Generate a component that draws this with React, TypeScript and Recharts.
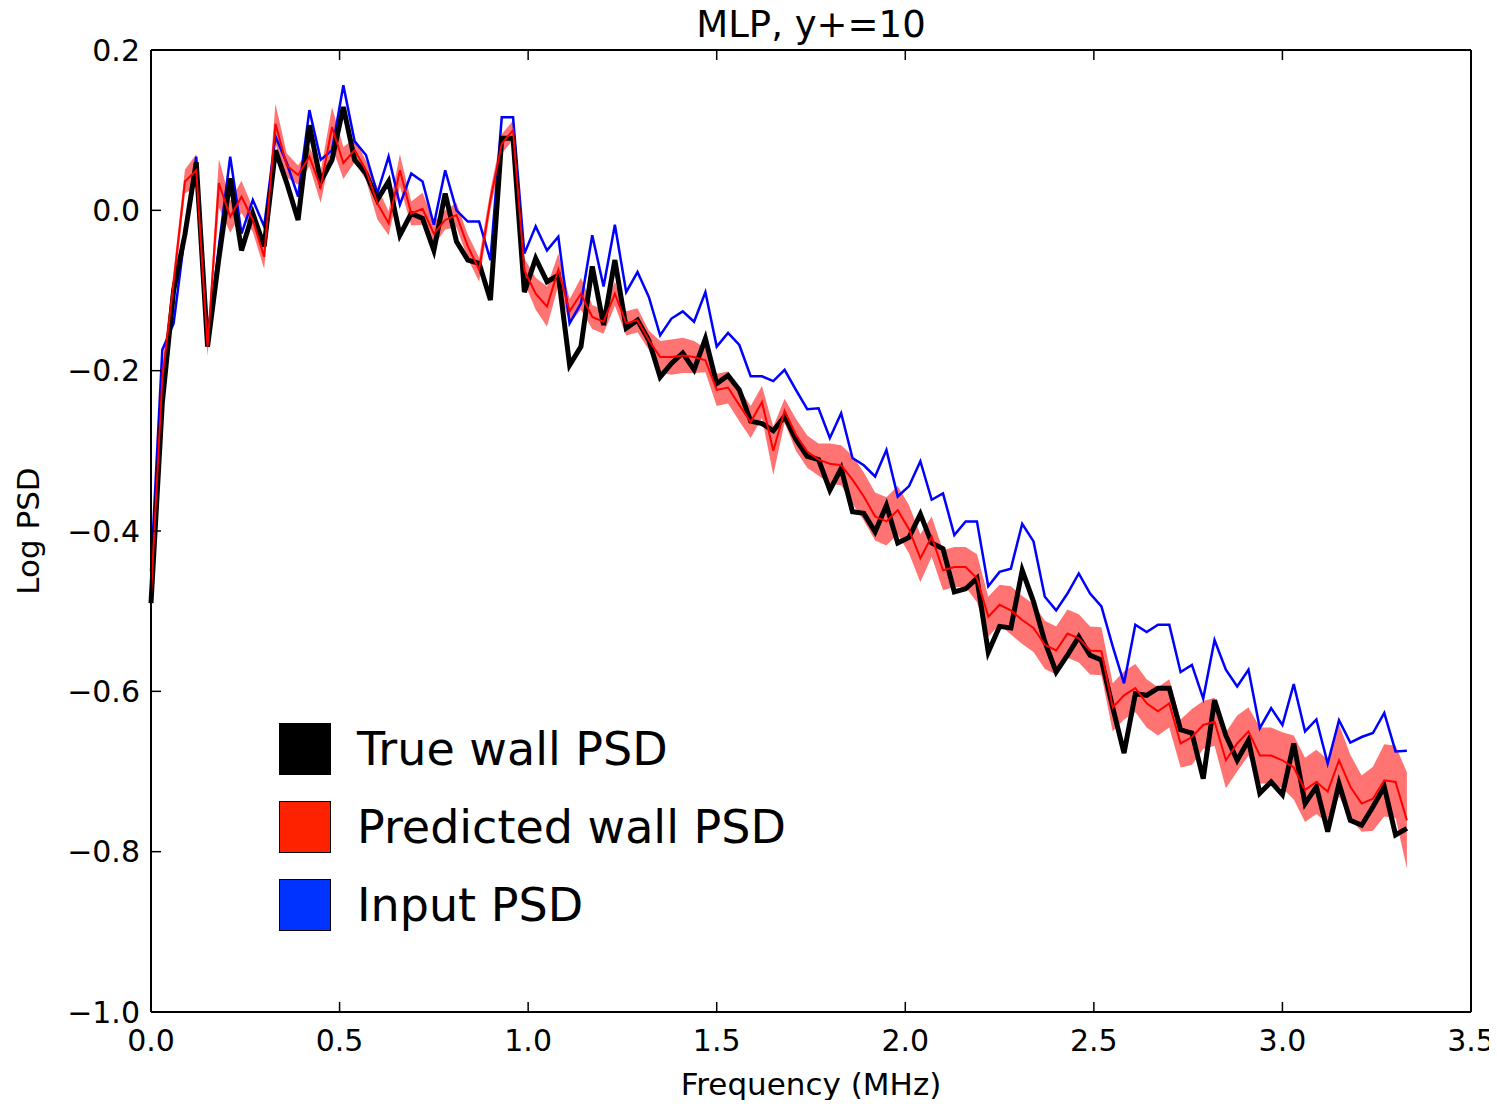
import {
  ComposedChart,
  XAxis,
  YAxis,
  Line,
  Area,
  Legend,
} from 'recharts';

// frequency grid (MHz), one bin every 0.03
const FREQ_STEP = 0.03;

const trueWall = [
  -0.49, -0.24, -0.1, -0.03, 0.06, -0.17, -0.06, 0.04, -0.05, -0.004,
  -0.045, 0.075, 0.034, -0.012, 0.106, 0.036, 0.063, 0.129, 0.063, 0.046,
  0.013, 0.036, -0.031, -0.004, -0.01, -0.05, 0.021, -0.039, -0.062, -0.066,
  -0.112, 0.09, 0.09, -0.102, -0.06, -0.089, -0.081, -0.193, -0.17, -0.07,
  -0.143, -0.062, -0.147, -0.137, -0.162, -0.208, -0.191, -0.178, -0.199, -0.16,
  -0.216, -0.206, -0.224, -0.263, -0.266, -0.275, -0.257, -0.286, -0.307, -0.311,
  -0.349, -0.322, -0.376, -0.378, -0.401, -0.368, -0.415, -0.408, -0.379, -0.415,
  -0.422, -0.476, -0.472, -0.459, -0.551, -0.519, -0.521, -0.449, -0.488, -0.538,
  -0.576, -0.555, -0.532, -0.555, -0.561, -0.62, -0.677, -0.603, -0.605, -0.596,
  -0.596, -0.648, -0.652, -0.709, -0.611, -0.655, -0.686, -0.661, -0.727, -0.713,
  -0.729, -0.665, -0.74, -0.719, -0.775, -0.715, -0.761, -0.767, -0.744, -0.719,
  -0.779, -0.771,
];

const predicted = [
  -0.48, -0.21, -0.09, 0.036, 0.05, -0.17, 0.034, -0.008, 0.017, -0.012,
  -0.058, 0.108, 0.056, 0.044, 0.067, 0.029, 0.104, 0.059, 0.075, 0.05,
  0.009, -0.016, 0.05, -0.004, 0.002, -0.029, -0.012, -0.006, -0.045, -0.074,
  0.013, 0.083, 0.1, -0.075, -0.104, -0.12, -0.074, -0.126, -0.104, -0.133,
  -0.139, -0.104, -0.141, -0.137, -0.162, -0.183, -0.183, -0.181, -0.183, -0.187,
  -0.224, -0.221, -0.243, -0.264, -0.239, -0.3, -0.25, -0.28, -0.301, -0.311,
  -0.316, -0.318, -0.336, -0.357, -0.382, -0.388, -0.374, -0.398, -0.434, -0.407,
  -0.449, -0.445, -0.445, -0.459, -0.507, -0.492, -0.499, -0.511, -0.521, -0.542,
  -0.549, -0.528, -0.534, -0.549, -0.55, -0.62, -0.605, -0.596, -0.615, -0.625,
  -0.615, -0.665, -0.657, -0.642, -0.638, -0.686, -0.665, -0.65, -0.68, -0.68,
  -0.686, -0.695, -0.723, -0.713, -0.725, -0.686, -0.719, -0.74, -0.734, -0.711,
  -0.713, -0.761,
];

// half width of the shaded uncertainty band around the prediction
const predictedSpread = [
  0.012, 0.015, 0.015, 0.015, 0.02, 0.012, 0.03, 0.02, 0.02, 0.015,
  0.015, 0.025, 0.015, 0.012, 0.012, 0.02, 0.025, 0.02, 0.015, 0.012,
  0.02, 0.015, 0.02, 0.015, 0.02, 0.015, 0.012, 0.015, 0.015, 0.015,
  0.012, 0.012, 0.012, 0.015, 0.02, 0.025, 0.02, 0.015, 0.02, 0.015,
  0.015, 0.015, 0.015, 0.015, 0.012, 0.02, 0.022, 0.022, 0.02, 0.015,
  0.02, 0.02, 0.02, 0.02, 0.02, 0.03, 0.015, 0.02, 0.02, 0.02,
  0.025, 0.025, 0.03, 0.03, 0.03, 0.03, 0.03, 0.03, 0.03, 0.025,
  0.025, 0.025, 0.025, 0.03, 0.025, 0.025, 0.03, 0.03, 0.03, 0.03,
  0.03, 0.03, 0.03, 0.03, 0.03, 0.03, 0.03, 0.03, 0.03, 0.03,
  0.03, 0.03, 0.035, 0.03, 0.03, 0.035, 0.035, 0.03, 0.035, 0.035,
  0.035, 0.04, 0.04, 0.04, 0.04, 0.045, 0.04, 0.035, 0.04, 0.045,
  0.045, 0.06,
];

const input = [
  -0.45, -0.174, -0.141, -0.03, 0.067, -0.166, -0.045, 0.067, -0.029, 0.013,
  -0.02, 0.092, 0.059, 0.017, 0.125, 0.063, 0.075, 0.156, 0.086, 0.069,
  0.021, 0.067, 0.007, 0.046, 0.036, -0.018, 0.05, 0.0, -0.014, -0.014,
  -0.062, 0.116, 0.116, -0.054, -0.02, -0.05, -0.033, -0.141, -0.116, -0.031,
  -0.095, -0.018, -0.102, -0.077, -0.108, -0.156, -0.135, -0.126, -0.139, -0.102,
  -0.17, -0.153, -0.168, -0.207, -0.207, -0.213, -0.199, -0.224, -0.248, -0.247,
  -0.284, -0.253, -0.309, -0.318, -0.332, -0.299, -0.357, -0.344, -0.313, -0.361,
  -0.353, -0.405, -0.388, -0.388, -0.469, -0.451, -0.447, -0.391, -0.413, -0.482,
  -0.499, -0.478, -0.453, -0.478, -0.494, -0.544, -0.59, -0.517, -0.526, -0.517,
  -0.517, -0.576, -0.567, -0.609, -0.536, -0.573, -0.594, -0.573, -0.646, -0.621,
  -0.642, -0.591, -0.65, -0.635, -0.69, -0.636, -0.664, -0.657, -0.652, -0.627,
  -0.675, -0.674,
];

const xTicks = [0, 0.5, 1, 1.5, 2, 2.5, 3, 3.5];
const yTicks = [0.2, 0, -0.2, -0.4, -0.6, -0.8, -1.0];

const legendItems = [
  { label: 'True wall PSD', color: '#000000' },
  { label: 'Predicted wall PSD', color: '#ff2200' },
  { label: 'Input PSD', color: '#0033ff' },
];

const data = trueWall.map((t, i) => ({
  freq: Number((i * FREQ_STEP).toFixed(2)),
  trueWall: t,
  predicted: predicted[i],
  band: [predicted[i] - predictedSpread[i], predicted[i] + predictedSpread[i]],
  input: input[i],
}));

const FONT = 'DejaVu Sans';

const fmtY = (v: number) => {
  if (Math.abs(v) < 1e-9) return '0.0';
  return v < 0 ? `\u2212${Math.abs(v).toFixed(1)}` : v.toFixed(1);
};

const YLabel = (props: any) => {
  const { viewBox } = props;
  const cx = 20;
  const cy = viewBox.y + viewBox.height / 2;
  return (
    <text
      x={cx}
      y={cy}
      transform={`rotate(-90 ${cx} ${cy})`}
      textAnchor="middle"
      dominantBaseline="central"
      fontSize={31}
      fontFamily={FONT}
      fill="#000"
    >
      Log PSD
    </text>
  );
};

const renderLegend = () => (
  <div style={{ fontFamily: FONT }}>
    {legendItems.map((item) => (
      <div
        key={item.label}
        style={{ display: 'flex', alignItems: 'center', height: 78 }}
      >
        <div
          style={{
            width: 50,
            height: 50,
            background: item.color,
            border: '1.5px solid #000',
          }}
        />
        <span style={{ marginLeft: 26, fontSize: 46, color: '#000' }}>
          {item.label}
        </span>
      </div>
    ))}
  </div>
);

export default function App() {
  const tickStyle = { fontSize: 30, fill: '#000', fontFamily: FONT };
  return (
    <div style={{ width: 1489, height: 1100, marginRight: -8, marginBottom: -8 }}>
      <style>{'.recharts-surface { overflow: visible; }'}</style>
      <ComposedChart
        width={1489}
        height={1100}
        data={data}
        margin={{ top: 41, right: 25, left: 0, bottom: 0 }}
      >
        <XAxis
          dataKey="freq"
          type="number"
          domain={[0, 3.5]}
          ticks={xTicks}
          tickFormatter={(v) => v.toFixed(1)}
          height={96}
          tick={tickStyle}
          tickSize={-10}
          tickMargin={28}
          axisLine={{ stroke: '#000', strokeWidth: 2 }}
          tickLine={{ stroke: '#000', strokeWidth: 1.5 }}
          interval={0}
          label={{
            value: 'Frequency (MHz)',
            position: 'insideBottom',
            offset: 13,
            fontSize: 31,
            fill: '#000',
            fontFamily: FONT,
          }}
        />
        <XAxis
          xAxisId="top"
          orientation="top"
          dataKey="freq"
          type="number"
          domain={[0, 3.5]}
          ticks={xTicks}
          tickFormatter={() => ''}
          height={1}
          tickSize={-10}
          axisLine={{ stroke: '#000', strokeWidth: 2 }}
          tickLine={{ stroke: '#000', strokeWidth: 1.5 }}
          interval={0}
          label={{
            value: 'MLP, y+=10',
            position: 'top',
            offset: 12,
            fontSize: 37,
            fill: '#000',
            fontFamily: FONT,
          }}
        />
        <YAxis
          type="number"
          domain={[-1, 0.2]}
          ticks={yTicks}
          tickFormatter={fmtY}
          width={143}
          tick={tickStyle}
          tickSize={-10}
          tickMargin={21}
          axisLine={{ stroke: '#000', strokeWidth: 2 }}
          tickLine={{ stroke: '#000', strokeWidth: 1.5 }}
          interval={0}
          label={<YLabel />}
        />
        <YAxis
          yAxisId="right"
          orientation="right"
          type="number"
          domain={[-1, 0.2]}
          ticks={yTicks}
          tickFormatter={() => ''}
          width={1}
          tickSize={-10}
          axisLine={{ stroke: '#000', strokeWidth: 2 }}
          tickLine={{ stroke: '#000', strokeWidth: 1.5 }}
          interval={0}
        />
        <Legend
          layout="vertical"
          align="center"
          verticalAlign="middle"
          content={renderLegend}
          wrapperStyle={{ left: 271, top: 702, width: 600 }}
        />
        <Area
          type="linear"
          dataKey="band"
          stroke="none"
          fill="#ff0000"
          fillOpacity={0.55}
          isAnimationActive={false}
          legendType="none"
        />
        <Line
          type="linear"
          dataKey="input"
          stroke="#0000ff"
          strokeWidth={2.5}
          dot={false}
          isAnimationActive={false}
        />
        <Line
          type="linear"
          dataKey="trueWall"
          stroke="#000000"
          strokeWidth={5}
          dot={false}
          isAnimationActive={false}
        />
        <Line
          type="linear"
          dataKey="predicted"
          stroke="#ff0000"
          strokeWidth={2}
          dot={false}
          isAnimationActive={false}
        />
      </ComposedChart>
    </div>
  );
}
